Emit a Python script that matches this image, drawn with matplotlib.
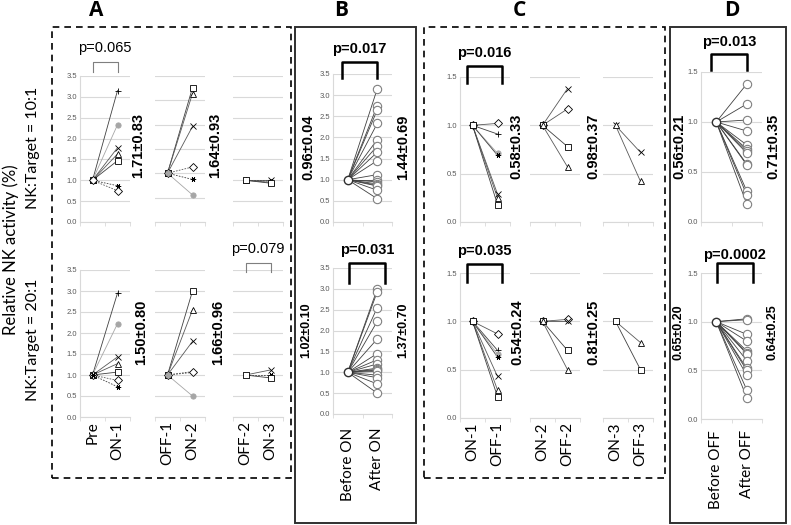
import matplotlib
matplotlib.use("Agg")
import matplotlib.pyplot as plt
import matplotlib.transforms as mtransforms
from matplotlib.patches import Rectangle
from matplotlib.lines import Line2D

W, H = 791, 525
plt.rcParams['font.family'] = ['Liberation Sans', 'DejaVu Sans']

# ---------------- data ----------------
# panel A : NK:Target = 10:1, one list per pair of time points
a10_labels = [["Pre", "ON-1"], ["OFF-1", "ON-2"], ["OFF-2", "ON-3"]]
a10_subj = [["plus", "circle", "x", "tri", "square", "star", "diamond"],
            ["square", "tri", "x", "diamond", "star", "circle"],
            ["x", "star", "tri", "square"]]
a10_before = [[1.0, 1.0, 1.0, 1.0, 1.0, 1.0, 1.0],
              [1.17, 1.17, 1.17, 1.17, 1.17, 1.17],
              [1.0, 1.0, 1.0, 1.0]]
a10_after = [[3.15, 2.33, 1.78, 1.63, 1.47, 0.87, 0.75],
             [3.22, 3.08, 2.29, 1.32, 1.02, 0.65],
             [1.00, 0.98, 0.95, 0.93]]
a10_stats = ["1.71\u00b10.83", "1.64\u00b10.93"]

# panel A : NK:Target = 20:1
a20_subj = [["plus", "circle", "x", "tri", "square", "diamond", "star"],
            ["square", "tri", "x", "star", "diamond", "circle"],
            ["x", "star", "square"]]
a20_before = [[1.0, 1.0, 1.0, 1.0, 1.0, 1.0, 1.0],
              [1.0, 1.0, 1.0, 1.0, 1.0, 1.0],
              [1.0, 1.0, 1.0]]
a20_after = [[2.95, 2.22, 1.43, 1.27, 1.07, 0.87, 0.72],
             [3.00, 2.55, 1.80, 1.08, 1.06, 0.50],
             [1.12, 1.00, 0.93]]
a20_stats = ["1.50\u00b10.80", "1.66\u00b10.96"]

# panel B : before / after ON
b_labels = ["Before ON", "After ON"]
b10_after = [3.15, 2.75, 2.65, 2.33, 1.95, 1.80, 1.65, 1.45, 1.12, 1.00,
             0.95, 0.90, 0.87, 0.85, 0.75, 0.55]
b20_after = [3.00, 2.93, 2.55, 2.22, 1.80, 1.45, 1.30, 1.20, 1.10, 1.07,
             1.05, 1.02, 0.93, 0.87, 0.72, 0.50]
b10_stats = ["0.96\u00b10.04", "1.44\u00b10.69"]
b20_stats = ["1.02\u00b10.10", "1.37\u00b10.70"]

# panel C : NK:Target = 10:1
c_labels = [["ON-1", "OFF-1"], ["ON-2", "OFF-2"], ["ON-3", "OFF-3"]]
c10_subj = [["diamond", "plus", "circle", "star", "x", "tri", "square"],
            ["x", "diamond", "square", "tri"],
            ["x", "tri"]]
c10_before = [[1.0, 1.0, 1.0, 1.0, 1.0, 1.0, 1.0], [1.0, 1.0, 1.0, 1.0], [1.0, 1.0]]
c10_after = [[1.02, 0.91, 0.71, 0.69, 0.29, 0.25, 0.18],
             [1.38, 1.17, 0.78, 0.57],
             [0.72, 0.42]]
c10_stats = ["0.58\u00b10.33", "0.98\u00b10.37"]

# panel C : NK:Target = 20:1
c20_subj = [["diamond", "plus", "circle", "star", "x", "tri", "square"],
            ["diamond", "x", "square", "tri"],
            ["tri", "square"]]
c20_before = [[1.0, 1.0, 1.0, 1.0, 1.0, 1.0, 1.0], [1.0, 1.0, 1.0, 1.0], [1.0, 1.0]]
c20_after = [[0.87, 0.70, 0.66, 0.63, 0.43, 0.29, 0.22],
             [1.02, 1.00, 0.70, 0.50],
             [0.78, 0.50]]
c20_stats = ["0.54\u00b10.24", "0.81\u00b10.25"]

# panel D : before / after OFF
d_labels = ["Before OFF", "After OFF"]
d10_after = [1.38, 1.18, 1.02, 0.91, 0.77, 0.73, 0.71, 0.69, 0.58, 0.57,
             0.31, 0.27, 0.18]
d20_after = [1.03, 1.02, 0.87, 0.80, 0.70, 0.68, 0.67, 0.60, 0.52, 0.50,
             0.45, 0.30, 0.22]
d10_stats = ["0.56\u00b10.21", "0.71\u00b10.35"]
d20_stats = ["0.65\u00b10.20", "0.64\u00b10.25"]

pvals = {"A10": "p=0.065", "A20": "p=0.079", "B10": "p=0.017", "B20": "p=0.031",
         "C10": "p=0.016", "C20": "p=0.035", "D10": "p=0.013", "D20": "p=0.0002"}

# ---------------- styles ----------------
STY = {
    "plus":    dict(marker="+", mfc="black", mec="black", lc="#404040"),
    "circle":  dict(marker="o", mfc="#a6a6a6", mec="#a6a6a6", lc="#a6a6a6"),
    "x":       dict(marker="x", mfc="black", mec="black", lc="#595959"),
    "tri":     dict(marker="^", mfc="white", mec="black", lc="#595959"),
    "square":  dict(marker="s", mfc="white", mec="black", lc="#404040"),
    "star":    dict(marker=(6, 2, 90), mfc="black", mec="black", lc="#404040"),
    "diamond": dict(marker="D", mfc="white", mec="black", lc="#595959"),
}
GRID = "#d9d9d9"
TICKC = "#595959"
XFONT = ['Lato', 'DejaVu Sans']

fig = plt.figure(figsize=(W / 100, H / 100), dpi=100)


def add_ax(x0, x1, ytop, ybot):
    return fig.add_axes([x0 / W, 1 - ybot / H, (x1 - x0) / W, (ybot - ytop) / H])


def fig_text(x, y, s, **kw):
    fig.text(x / W, 1 - y / H, s, **kw)


def style_ax(ax, ymax, yticks, show_y, xlabels=None, pad=3):
    ax.set_xlim(0, 2)
    ax.set_ylim(0, ymax)
    ax.set_yticks(yticks)
    ax.yaxis.grid(True, color=GRID, lw=0.8)
    ax.set_axisbelow(True)
    for s in ["top", "right"]:
        ax.spines[s].set_visible(False)
    ax.spines["bottom"].set_color(GRID)
    ax.spines["left"].set_color(GRID)
    ax.spines["left"].set_visible(show_y)
    ax.tick_params(axis="y", length=0, labelsize=5.5, colors=TICKC, pad=2)
    if show_y:
        ax.set_yticklabels(["%.1f" % t for t in yticks])
    else:
        ax.set_yticklabels([])
    ax.set_xticks([0, 1, 2], minor=True)
    ax.set_xticks([0.5, 1.5])
    ax.tick_params(axis="x", which="minor", length=3, color=GRID)
    ax.tick_params(axis="x", which="major", length=0, pad=pad)
    if xlabels:
        ax.set_xticklabels(xlabels, rotation=90, fontsize=11, family=XFONT, va="top")
    else:
        ax.set_xticklabels([])


def draw_subjects(ax, subj, before, after, dashed):
    for name, y0, y1 in zip(subj, before, after):
        st = STY[name]
        ls = (0, (2, 1.5)) if (dashed and name in ("star", "diamond")) else "-"
        ax.plot([0.5, 1.5], [y0, y1], color=st["lc"], lw=0.6, ls=ls, zorder=2)
        ax.plot([0.5, 1.5], [y0, y1], ls="none", marker=st["marker"], ms=3.8,
                mfc=st["mfc"], mec=st["mec"], mew=0.6, zorder=3)


def draw_circles(ax, after):
    for y1 in after:
        ax.plot([0.5, 1.5], [1.0, y1], color="#404040", lw=0.6, zorder=2)
    ax.plot([1.5] * len(after), after, ls="none", marker="o", ms=6, mfc="white",
            mec="#808080", mew=0.8, zorder=3)
    ax.plot([0.5], [1.0], ls="none", marker="o", ms=6, mfc="white",
            mec="#303030", mew=1.0, zorder=3)


def bracket(ax, x0, x1, ytop, ybot, text, ytext, bold, fs):
    tr = mtransforms.blended_transform_factory(ax.transData, ax.transAxes)
    if bold:
        col, lw = "black", 1.8
    else:
        col, lw = "#7f7f7f", 0.8
    ax.add_line(Line2D([x0, x0, x1, x1], [ybot, ytop, ytop, ybot], transform=tr,
                       color=col, lw=lw, clip_on=False))
    ax.text((x0 + x1) / 2, ytext, text, transform=tr, ha="center", va="center",
            fontsize=fs, fontweight="bold" if bold else "normal", clip_on=False)


def stat(x, y, s, fs=10.5):
    fig_text(x, y, s, rotation=90, ha="center", va="center", fontsize=fs,
             fontweight="bold")


yA = [0, 0.5, 1.0, 1.5, 2.0, 2.5, 3.0, 3.5]
yA_mid = [3.5 * k / 6 for k in range(7)]
yC = [0, 0.5, 1.0, 1.5]

# ----- panel A -----
ax_cols_A = [(80, 130), (155, 205), (233, 283)]
for i, (x0, x1) in enumerate(ax_cols_A):
    ax = add_ax(x0, x1, 76, 222)
    style_ax(ax, 3.5, yA_mid if i == 1 else yA, i == 0)
    draw_subjects(ax, a10_subj[i], a10_before[i], a10_after[i], True)
    if i == 0:
        bracket(ax, 0.5, 1.5, 1.095, 1.025, pvals["A10"], 1.19, False, 10.5)
for i, (x0, x1) in enumerate(ax_cols_A):
    ax = add_ax(x0, x1, 270, 417)
    style_ax(ax, 3.5, yA, i == 0, a10_labels[i])
    draw_subjects(ax, a20_subj[i], a20_before[i], a20_after[i], True)
    if i == 2:
        bracket(ax, 0.5, 1.5, 1.05, 0.985, pvals["A20"], 1.14, False, 10.5)
stat(138, 145, a10_stats[0])
stat(215, 145, a10_stats[1])
stat(141, 332, a20_stats[0])
stat(218, 332, a20_stats[1])

# ----- panel B -----
ax = add_ax(333, 392, 74, 222)
style_ax(ax, 3.5, yA, True)
draw_circles(ax, b10_after)
bracket(ax, 0.3, 1.5, 1.08, 0.97, pvals["B10"], 1.17, True, 10.5)
ax = add_ax(333, 392, 268, 414)
style_ax(ax, 3.5, yA, True, b_labels, pad=10)
draw_circles(ax, b20_after)
bracket(ax, 0.55, 1.75, 1.035, 0.9, pvals["B20"], 1.12, True, 10.5)
stat(308, 147, b10_stats[0])
stat(403, 147, b10_stats[1])
stat(306, 330, b20_stats[0], 9)
stat(403, 330, b20_stats[1], 9)

# ----- panel C -----
ax_cols_C = [(460, 510), (530, 580), (603, 653)]
for i, (x0, x1) in enumerate(ax_cols_C):
    ax = add_ax(x0, x1, 77, 222)
    style_ax(ax, 1.5, yC, i == 0)
    draw_subjects(ax, c10_subj[i], c10_before[i], c10_after[i], False)
    if i == 0:
        bracket(ax, 0.28, 1.68, 1.076, 0.96, pvals["C10"], 1.165, True, 10.5)
for i, (x0, x1) in enumerate(ax_cols_C):
    ax = add_ax(x0, x1, 273, 418)
    style_ax(ax, 1.5, yC, i == 0, c_labels[i])
    draw_subjects(ax, c20_subj[i], c20_before[i], c20_after[i], False)
    if i == 0:
        bracket(ax, 0.28, 1.68, 1.062, 0.938, pvals["C20"], 1.15, True, 10.5)
stat(516, 146, c10_stats[0])
stat(593, 146, c10_stats[1])
stat(517, 332, c20_stats[0])
stat(593, 332, c20_stats[1])

# ----- panel D -----
ax = add_ax(701, 762, 72, 222)
style_ax(ax, 1.5, yC, True)
draw_circles(ax, d10_after)
bracket(ax, 0.33, 1.51, 1.12, 1.013, pvals["D10"], 1.2, True, 10.5)
ax = add_ax(701, 762, 273, 419)
style_ax(ax, 1.5, yC, True, d_labels, pad=8)
draw_circles(ax, d20_after)
bracket(ax, 0.52, 1.7, 1.068, 0.938, pvals["D20"], 1.12, True, 10.5)
stat(679, 146, d10_stats[0])
stat(773, 146, d10_stats[1])
stat(679, 332, d20_stats[0], 9)
stat(773, 332, d20_stats[1], 9)

# ----- boxes and labels -----
def box(x0, y0, x1, y1, dashed):
    r = Rectangle((x0 / W, 1 - y1 / H), (x1 - x0) / W, (y1 - y0) / H,
                  transform=fig.transFigure, fill=False,
                  ec="black" if dashed else "#303030", lw=1.2 if dashed else 1.4,
                  ls=(0, (4, 3)) if dashed else "-")
    fig.patches.append(r)

box(52, 27, 291, 478, True)
box(295, 27, 416, 523, False)
box(424, 27, 665, 478, True)
box(670, 27, 786, 523, False)

for letter, x in [("A", 96), ("B", 341), ("C", 519), ("D", 732)]:
    fig_text(x, 11, letter, ha="center", va="center", fontsize=15,
             fontweight="bold", family=['Open Sans', 'DejaVu Sans'])

fig_text(11, 250, "Relative NK activity (%)", rotation=90, ha="center",
         va="center", fontsize=12, family=XFONT)
fig_text(33, 148, "NK:Target = 10:1", rotation=90, ha="center", va="center",
         fontsize=11.5, family=XFONT)
fig_text(33, 340, "NK:Target = 20:1", rotation=90, ha="center", va="center",
         fontsize=11.5, family=XFONT)

fig.savefig("out.png", dpi=100)
